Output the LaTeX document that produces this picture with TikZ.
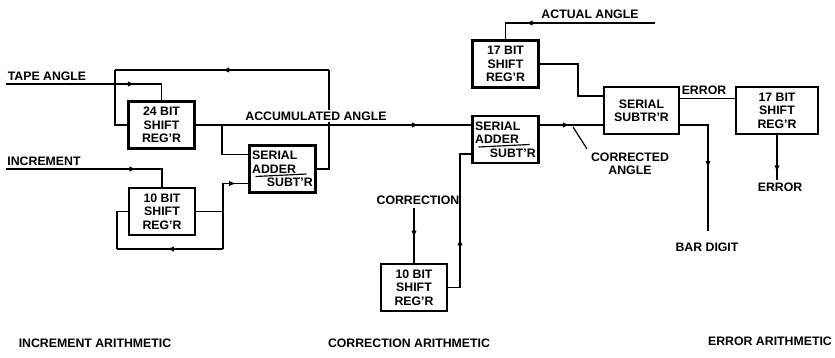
\documentclass[tikz,border=0pt]{standalone}
\usepackage{fontspec}
\setmainfont{Liberation Sans}
\usetikzlibrary{arrows.meta,decorations.markings}
\usetikzlibrary{calc}
\usetikzlibrary{positioning}

\begin{document}
\begin{tikzpicture}[
	x=0.03cm, y=-0.03cm,
  > = {Latex[length=6pt,width=4.5pt]},
  every node/.style = {font=\bfseries\fontsize{10.5}{11.5}\selectfont},
  reg/.style = {draw,line width=1.8pt,minimum width=1.98cm,minimum height=1.41cm,align=center,inner sep=1pt},
  wire/.style = {line width=1pt},
  arrow at/.style = {postaction=decorate,decoration={markings,mark=at position #1 with \arrow{>}}}
  ]
	\useasboundingbox (0,0) rectangle (835,357);

	% registers and adders
	\node[reg] (sr24) at (161.5,125) {24 BIT\\SHIFT\\REG'R};
	\node[reg] (sr10a) at (162,211.5) {10 BIT\\SHIFT\\REG'R};
	\node[reg,align=left] (adda) at (282.5,169) {SERIAL\\ADDER\\\hspace*{1.2em}SUBT'R};
	\node[reg,align=left] (addb) at (505.5,139.5) {SERIAL\\ADDER\\\hspace*{1.2em}SUBT'R};
	\node[reg] (sr10b) at (414,287.5) {10 BIT\\SHIFT\\REG'R};
	\node[reg] (sr17a) at (505.5,64) {17 BIT\\SHIFT\\REG'R};
	\node[reg,minimum width=2.25cm] (subt) at (641.5,110.5) {SERIAL\\SUBTR'R};
	\node[reg,minimum width=2.46cm] (sr17b) at (777,110.5) {17 BIT\\SHIFT\\REG'R};

	\draw[wire] ($(adda.center)+(-27,7.5)$) -- ($(adda.center)+(24,5)$);
	\draw[wire] ($(addb.center)+(-27,7.5)$) -- ($(addb.center)+(24,5)$);

	\coordinate (tapein) at (6,84);
	\coordinate (incin) at (6,169);
	\coordinate (j1) at (222,125);
	\coordinate (j2) at (223,211.5);
	\coordinate (fb1) at (329,70);
	\coordinate (fb2) at (115,70);
	\coordinate (lp1) at (223,249);
	\coordinate (lp2) at (117,249);
	\coordinate (corin) at (414,208);
	\coordinate (cor1) at (460,154);
	\coordinate (actin) at (655,23);
	\coordinate (s1) at (578,80);
	\coordinate (cptr) at (573,127);
	\coordinate (barend) at (708,231);
	\coordinate (errend) at (777,180);

	% increment arithmetic
	\draw[wire,arrow at=0.75] (tapein) -| (sr24.north);
	\draw[wire,arrow at=0.75] (incin) -| (sr10a.north);
	\draw[wire,arrow at=0.81] (sr24.east) -- (sr24.east -| addb.west);
	\draw[wire] (j1) |- ($(adda.west)+(0,-14.5)$);
	\draw[wire,arrow at=0.77] (j2) |- ($(adda.west)+(0,14.5)$);
	\draw[wire] (sr10a.east) -- (j2) -- (lp1);
	\draw[wire,arrow at=0.53] (lp1) -- (lp2);
	\draw[wire] (lp2) |- (sr10a.west);
	\draw[wire] (adda.east) -| (fb1);
	\draw[wire,arrow at=0.5] (fb1) -- (fb2);
	\draw[wire] (fb2) |- (sr24.west);

	% correction arithmetic
	\draw[wire,arrow at=0.54] (corin) -- (sr10b.north);
	\draw[wire,arrow at=0.39] (sr10b.east) -| (cor1) -- ($(addb.west)+(0,14.5)$);
	\draw[wire,arrow at=0.48] ($(addb.east)+(0,-14.5)$) -- ($(subt.west)+(0,14.5)$);

	% error arithmetic
	\draw[wire,arrow at=0.78] (actin) -| (sr17a.north);
	\draw[wire] (sr17a.east) -| (s1) |- ($(subt.west)+(0,-14.5)$);
	\draw[wire] ($(subt.east)+(0,-12)$) -- ($(sr17b.west)+(0,-12)$);
	\draw[wire,arrow at=0.53] ($(subt.east)+(0,14.5)$) -| (barend);
	\draw[wire,arrow at=0.83] (sr17b.south) -- (errend);

	% labels
	\node (tape) at (47,76) {TAPE ANGLE};
	\node (inc) at (44,161) {INCREMENT};
	\node[fill=white,inner sep=1pt] (acc) at (316,116) {ACCUMULATED ANGLE};
	\node (corrn) at (418,200) {CORRECTION};
	\node[align=center] (corr) at (630,164) {CORRECTED\\ANGLE};
	\node (act) at (590,14) {ACTUAL ANGLE};
	\node (err) at (704,90) {ERROR};
	\node (bar) at (707,247) {BAR DIGIT};
	\node (errout) at (780,187) {ERROR};
	\node (incar) at (95,343) {INCREMENT ARITHMETIC};
	\node (corar) at (409,343) {CORRECTION ARITHMETIC};
	\node (errar) at (770,341) {ERROR ARITHMETIC};
	\draw[wire] (corr.north west) -- (cptr);

\end{tikzpicture}
\end{document}
